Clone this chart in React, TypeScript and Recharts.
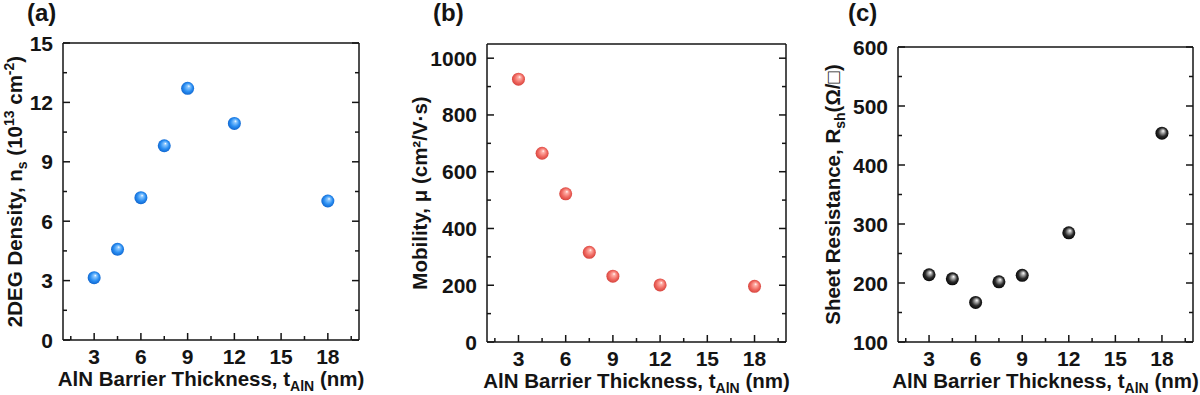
import React from 'react';
import { ScatterChart, Scatter, XAxis, YAxis } from 'recharts';

// ---- data ----
const thickness = [3, 4.5, 6, 7.5, 9, 12, 18];
const density = [3.15, 4.58, 7.19, 9.81, 12.71, 10.94, 7.02];
const mobility = [926, 665, 522, 316, 232, 201, 196];
const resistance = [214, 207, 167, 202, 213, 285, 454];

const xMajor = [3, 6, 9, 12, 15, 18];
const xMinor = [1.5, 4.5, 7.5, 10.5, 13.5, 16.5, 19.5];
const densityMajor = [0, 3, 6, 9, 12, 15];
const densityMinor = [1.5, 4.5, 7.5, 10.5, 13.5];
const mobilityMajor = [0, 200, 400, 600, 800, 1000];
const mobilityMinor = [100, 300, 500, 700, 900];
const resistanceMajor = [100, 200, 300, 400, 500, 600];
const resistanceMinor = [150, 250, 350, 450, 550];

const FONT = "'Liberation Sans', Arial, Helvetica, sans-serif";
const INK = '#141414';

type Side = 'bottom' | 'top' | 'left' | 'right';

const makeTick = (side: Side, majors: number[], labels: boolean) => (props: any) => {
  const { x, y, payload } = props;
  const v = Number(payload?.value);
  const major = majors.some((m) => Math.abs(m - v) < 1e-6);
  const len = major ? 7 : 4;
  let x2 = x;
  let y2 = y;
  if (side === 'bottom') y2 = y - len;
  if (side === 'top') y2 = y + len;
  if (side === 'left') x2 = x + len;
  if (side === 'right') x2 = x - len;
  return (
    <g>
      <line x1={x} y1={y} x2={x2} y2={y2} stroke={INK} strokeWidth={1.5} />
      {labels && major && side === 'bottom' && (
        <text x={x} y={y + 24} textAnchor="middle" fontFamily={FONT} fontWeight="bold" fontSize={21} fill={INK}>
          {v}
        </text>
      )}
      {labels && major && side === 'left' && (
        <text x={x - 10} y={y + 7.5} textAnchor="end" fontFamily={FONT} fontWeight="bold" fontSize={21} fill={INK}>
          {v}
        </text>
      )}
    </g>
  );
};

const makeSphere = (gid: string, light: string, base: string, dark: string) => (props: any) => {
  const { cx, cy } = props;
  if (cx == null || cy == null) return <g />;
  return (
    <g>
      <defs>
        <radialGradient id={gid} cx="0.5" cy="0.5" r="0.55" fx="0.6" fy="0.32">
          <stop offset="0" stopColor="#ffffff" />
          <stop offset="0.18" stopColor={light} />
          <stop offset="0.6" stopColor={base} />
          <stop offset="1" stopColor={dark} />
        </radialGradient>
      </defs>
      <circle cx={cx} cy={cy} r={6.5} fill={`url(#${gid})`} />
    </g>
  );
};

const xLabelContent = (props: any) => {
  const vb = props.viewBox || {};
  const cx = vb.x + vb.width / 2;
  const y = vb.y + 46;
  return (
    <text x={cx} y={y} textAnchor="middle" fontFamily={FONT} fontWeight="bold" fontSize={20.5} fill={INK}>
      <tspan>AlN Barrier Thickness, t</tspan>
      <tspan dy={5} fontSize={14}>AlN</tspan>
      <tspan dy={-5}> (nm)</tspan>
    </text>
  );
};

const makeYLabel = (lx: number, body: React.ReactNode) => (props: any) => {
  const vb = props.viewBox || {};
  const cy = vb.y + vb.height / 2;
  return (
    <text
      x={lx}
      y={cy}
      dy={7}
      transform={`rotate(-90 ${lx} ${cy})`}
      textAnchor="middle"
      fontFamily={FONT}
      fontWeight="bold"
      fontSize={20.5}
      fill={INK}
    >
      {body}
    </text>
  );
};

const densityLabel = (
  <>
    <tspan>2DEG Density, n</tspan>
    <tspan dy={5} fontSize={14}>s</tspan>
    <tspan dy={-5}> (10</tspan>
    <tspan dy={-8} fontSize={14}>13</tspan>
    <tspan dy={8}> cm</tspan>
    <tspan dy={-8} fontSize={14}>-2</tspan>
    <tspan dy={8}>)</tspan>
  </>
);

const mobilityLabel = <tspan>Mobility, μ (cm²/V·s)</tspan>;

const resistanceLabel = (
  <>
    <tspan>Sheet Resistance, R</tspan>
    <tspan dy={5} fontSize={14}>sh</tspan>
    <tspan dy={-5}>(Ω/□)</tspan>
  </>
);

interface PanelProps {
  left: number;
  width: number;
  margin: { top: number; right: number; bottom: number; left: number };
  yAxisWidth: number;
  yDomain: [number, number];
  yMajor: number[];
  yMinor: number[];
  values: number[];
  shape: (p: any) => React.ReactElement;
  yLabelX: number;
  yLabelBody: React.ReactNode;
  title: string;
  titleX: number;
}

function Panel(p: PanelProps) {
  const data = thickness.map((t, i) => ({ t, v: p.values[i] }));
  const xAll = [...xMajor, ...xMinor].sort((a, b) => a - b);
  const yAll = [...p.yMajor, ...p.yMinor].sort((a, b) => a - b);
  return (
    <div style={{ position: 'absolute', left: p.left, top: 0, width: p.width, height: 395 }}>
      <div
        style={{
          position: 'absolute',
          left: p.titleX,
          top: 1,
          fontFamily: FONT,
          fontWeight: 'bold',
          fontSize: 24,
          lineHeight: '24px',
          color: INK,
        }}
      >
        {p.title}
      </div>
      <ScatterChart width={p.width} height={395} margin={p.margin}>
        <XAxis
          xAxisId="b"
          dataKey="t"
          type="number"
          domain={[1, 20]}
          allowDataOverflow
          ticks={xAll}
          interval={0}
          orientation="bottom"
          height={50}
          tickSize={0}
          tickMargin={0}
          tickLine={false}
          axisLine={{ stroke: INK, strokeWidth: 1.5 }}
          tick={makeTick('bottom', xMajor, true)}
          label={{ content: xLabelContent }}
        />
        <XAxis
          xAxisId="t"
          type="number"
          domain={[1, 20]}
          allowDataOverflow
          ticks={xAll}
          interval={0}
          orientation="top"
          height={1}
          tickSize={0}
          tickMargin={0}
          tickLine={false}
          axisLine={{ stroke: INK, strokeWidth: 1.5 }}
          tick={makeTick('top', xMajor, false)}
        />
        <YAxis
          yAxisId="l"
          dataKey="v"
          type="number"
          domain={p.yDomain}
          allowDataOverflow
          ticks={yAll}
          interval={0}
          orientation="left"
          width={p.yAxisWidth}
          tickSize={0}
          tickMargin={0}
          tickLine={false}
          axisLine={{ stroke: INK, strokeWidth: 1.5 }}
          tick={makeTick('left', p.yMajor, true)}
          label={{ content: makeYLabel(p.yLabelX, p.yLabelBody) }}
        />
        <YAxis
          yAxisId="r"
          type="number"
          domain={p.yDomain}
          allowDataOverflow
          ticks={yAll}
          interval={0}
          orientation="right"
          width={1}
          tickSize={0}
          tickMargin={0}
          tickLine={false}
          axisLine={{ stroke: INK, strokeWidth: 1.5 }}
          tick={makeTick('right', p.yMajor, false)}
        />
        <Scatter data={data} xAxisId="b" yAxisId="l" shape={p.shape} isAnimationActive={false} />
      </ScatterChart>
    </div>
  );
}

export default function App() {
  return (
    <div style={{ position: 'absolute', left: 0, top: 0, width: 1200, height: 395, background: '#fff', overflow: 'hidden' }}>
      <Panel
        left={0}
        width={380}
        margin={{ top: 42, right: 20, bottom: 5, left: 13 }}
        yAxisWidth={50}
        yDomain={[0, 15]}
        yMajor={densityMajor}
        yMinor={densityMinor}
        values={density}
        shape={makeSphere('gBlue', '#8cc8ff', '#2a8ef2', '#0b5fc9')}
        yLabelX={15}
        yLabelBody={densityLabel}
        title="(a)"
        titleX={27}
      />
      <Panel
        left={400}
        width={400}
        margin={{ top: 43, right: 13, bottom: 3, left: 27 }}
        yAxisWidth={60}
        yDomain={[0, 1050]}
        yMajor={mobilityMajor}
        yMinor={mobilityMinor}
        values={mobility}
        shape={makeSphere('gRed', '#ffb0a8', '#f06a62', '#d23c36')}
        yLabelX={20}
        yLabelBody={mobilityLabel}
        title="(b)"
        titleX={33}
      />
      <Panel
        left={800}
        width={400}
        margin={{ top: 46, right: 6, bottom: 3, left: 38 }}
        yAxisWidth={60}
        yDomain={[100, 600]}
        yMajor={resistanceMajor}
        yMinor={resistanceMinor}
        values={resistance}
        shape={makeSphere('gBlack', '#bdbdbd', '#2a2a2a', '#000000')}
        yLabelX={33}
        yLabelBody={resistanceLabel}
        title="(c)"
        titleX={48}
      />
    </div>
  );
}
